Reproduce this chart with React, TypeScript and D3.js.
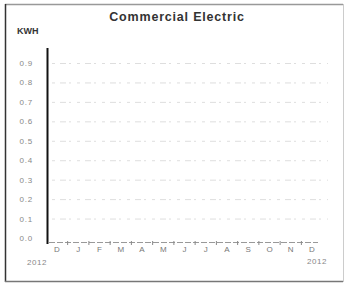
import React from "react";
import * as d3 from "d3";

const title = "Commercial Electric";
const yLabel = "KWH";
const months = ["D", "J", "F", "M", "A", "M", "J", "J", "A", "S", "O", "N", "D"];
const yTicks = [0, 0.1, 0.2, 0.3, 0.4, 0.5, 0.6, 0.7, 0.8, 0.9];
const yearLabels = ["2012", "2012"];

const W = 347;
const H = 285;

export default function App() {
  const y = d3.scaleLinear().domain([0, 0.9]).range([238, 63]);
  const keys = months.map((m, i) => i + m);
  const x = d3.scalePoint<string>().domain(keys).range([57, 312]);
  const step = x.step();
  const fmt = d3.format(".1f");
  const font = "Liberation Sans, Arial, sans-serif";

  return (
    <svg
      width={W}
      height={H}
      style={{ position: "absolute", left: 0, top: 0, background: "#fff" }}
      fontFamily={font}
    >
      <rect x={0} y={0} width={W} height={H} fill="#fff" />
      {/* frame */}
      <line x1={5} x2={343} y1={4.5} y2={4.5} stroke="#999" strokeWidth={1.5} />
      <line x1={5.5} x2={5.5} y1={4} y2={282} stroke="#333" strokeWidth={1.5} />
      <line x1={5} x2={343} y1={281.5} y2={281.5} stroke="#777" strokeWidth={1.5} />
      <line x1={343.5} x2={343.5} y1={4} y2={282} stroke="#ccc" strokeWidth={1} />

      <text x={177} y={21} textAnchor="middle" fontSize={12.5} fontWeight="bold" fill="#333" letterSpacing={0.8}>
        {title}
      </text>
      <text x={17} y={34} fontSize={9} fontWeight="bold" fill="#333">
        {yLabel}
      </text>

      {/* gridlines */}
      {yTicks.filter((t) => t > 0).map((t) => (
        <line
          key={"g" + t}
          x1={52}
          x2={328}
          y1={y(t) + 0.5}
          y2={y(t) + 0.5}
          stroke="#dedede"
          strokeWidth={1}
          strokeDasharray="3 5 6 3 2 6"
        />
      ))}

      {/* y tick labels */}
      {yTicks.map((t) => (
        <text
          key={"t" + t}
          x={33}
          y={y(t) + 3}
          textAnchor="end"
          fontSize={8}
          fill="#888"
          letterSpacing={0.8}
        >
          {fmt(t)}
        </text>
      ))}

      {/* y axis */}
      <line x1={47.5} x2={47.5} y1={48} y2={244} stroke="#111" strokeWidth={2} />

      {/* x axis */}
      <line
        x1={49}
        x2={318}
        y1={242.5}
        y2={242.5}
        stroke="#999"
        strokeWidth={1}
        strokeDasharray="6 2"
      />
      {keys.slice(0, -1).map((k) => (
        <line
          key={"xt" + k}
          x1={(x(k) as number) + step / 2}
          x2={(x(k) as number) + step / 2}
          y1={241}
          y2={245}
          stroke="#888"
          strokeWidth={1}
        />
      ))}
      {keys.map((k, i) => (
        <text
          key={"xl" + k}
          x={x(k) as number}
          y={252}
          textAnchor="middle"
          fontSize={8}
          fill="#777"
        >
          {months[i]}
        </text>
      ))}
      <text x={37} y={265} textAnchor="middle" fontSize={8} fill="#888" letterSpacing={0.5}>
        {yearLabels[0]}
      </text>
      <text x={317} y={264} textAnchor="middle" fontSize={8} fill="#888" letterSpacing={0.5}>
        {yearLabels[1]}
      </text>
    </svg>
  );
}
